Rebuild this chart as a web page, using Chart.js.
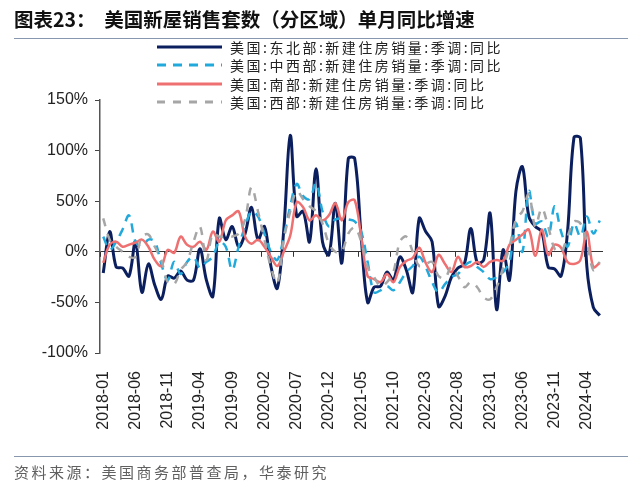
<!DOCTYPE html>
<html>
<head>
<meta charset="utf-8">
<script src="https://cdn.jsdelivr.net/npm/chart.js@4.4.0/dist/chart.umd.min.js"></script>
<style>
  body { margin: 0; background: #fff; }
  #wrap { position: relative; width: 640px; height: 489px; overflow: hidden; }
  #c { position: absolute; left: 0; top: 0; }
  .rule { position: absolute; left: 14px; width: 614px; height: 0; border-top: 1.5px solid #8797ad; }
  #title { position: absolute; left: 14px; top: 4px; font: bold 19.5px "Noto Sans CJK SC", sans-serif; color: #111; white-space: pre; }
  #legend { position: absolute; left: 157px; top: 38px; font: 14px "Noto Sans CJK SC", sans-serif; color: #222; letter-spacing: 2.5px; }
  .row { height: 18.3px; display: flex; align-items: center; white-space: nowrap; }
  .row svg { width: 65px; height: 6px; margin-right: 8px; }
  #source { position: absolute; left: 14px; top: 461px; font: 15px "Noto Sans CJK SC", sans-serif; color: #606060; letter-spacing: 2.5px; }
</style>
</head>
<body>
<div id="wrap">
  <canvas id="c" width="640" height="489"></canvas>
  <div id="title">图表23：  美国新屋销售套数（分区域）单月同比增速</div>
  <div class="rule" style="top:38px"></div>
  <div id="legend"></div>
  <div class="rule" style="top:456px"></div>
  <div id="source">资料来源：美国商务部普查局，华泰研究</div>
</div>
<script>
// 月份 2018-01 ~ 2024-06
const months = [
  '2018-01','2018-02','2018-03','2018-04','2018-05','2018-06','2018-07','2018-08','2018-09','2018-10','2018-11','2018-12',
  '2019-01','2019-02','2019-03','2019-04','2019-05','2019-06','2019-07','2019-08','2019-09','2019-10','2019-11','2019-12',
  '2020-01','2020-02','2020-03','2020-04','2020-05','2020-06','2020-07','2020-08','2020-09','2020-10','2020-11','2020-12',
  '2021-01','2021-02','2021-03','2021-04','2021-05','2021-06','2021-07','2021-08','2021-09','2021-10','2021-11','2021-12',
  '2022-01','2022-02','2022-03','2022-04','2022-05','2022-06','2022-07','2022-08','2022-09','2022-10','2022-11','2022-12',
  '2023-01','2023-02','2023-03','2023-04','2023-05','2023-06','2023-07','2023-08','2023-09','2023-10','2023-11','2023-12',
  '2024-01','2024-02','2024-03','2024-04','2024-05','2024-06'
];

// 同比 (%)
const northeast = [
  -21, 20, -15, -16, -24, 10, -40, -12, -33, -47, -24, -26,
  -19, -28, -28, 3, -28, -44, 33, 12, 25, 5, 18, 44,
  12, 25, -14, -36, 22, 115, 35, 40, 10, 82, 10, -3,
  48, -11, 92, 92, 15, -50, -35, -34, -20, -28, -5, -18,
  -40, 33, 20, 10, -54, -44, -25, -16, -12, 23, -11, -8,
  38, -57, 2, -28, 60, 84, 35, 25, 20, -15, -17, -24,
  20, 113, 112, -15, -55, -63
];
const midwest = [
  15, 2, 10, 22, 36, 10, 5, 12, 10, -12, -28, -10,
  -22, -10, -5, -16, -10, -5, 10, 5, -18, 5, 25, 40,
  35, 18, 0, -8, 15, 45, 67, 55, 52, 68, 40, 25,
  32, 33, 32, 30, 20, -10, -40, -38, -34, -38, -30, -20,
  -14, -5, -15, -30, -40, -32, -25, -22, -14, -10, -15, -20,
  -27, -25, -20, -10, 28, 0, 60, 28, 30, 15, 45, 20,
  5, 28, 15, 35, 18, 31
];
const south = [
  -11, 7, 10, 5, 7, 9, 12, 5, -8, -14, 2, -1,
  15, 7, 5, 10, 2, 20, 10, 31, 36, 40, 15, 8,
  12, 5, -5, -14, 0, 16, 49, 44, 31, 36, 31, 36,
  48, 31, 49, 51, 15, -24, -27, -30, -22, -30, -15, -9,
  -6, 4, -11, -20, -3, -12, -20, -5, -15, -14, -10, -15,
  -10, -8, -9, 7, 12, 17, 22, -4, 22, -3, 7, 4,
  -10, -12, -8, 20, -15, -11
];
const west = [
  33, 12, 5, 0, -5, -5, 15, 17, 5, -8, -30, -32,
  -18, -10, 10, 25, -8, 18, 15, 15, 15, 18, 32, 64,
  40, 12, -15, -31, 12, 40, 60, 52, 45, 40, 28, 8,
  0, 0, 18, 24, 10, -15, -25, -34, -30, -20, 10, 15,
  0, -14, -12, -10, -24, -26, -15, -24, -35, -30, -35, -45,
  -47, -35, -16, 5, 32, 40, 57, 25, 43, 25, 3, 0,
  15, 30, 28, 10, -18, -10
];

const yTicks = [-100, -50, 0, 50, 100, 150];

const series = [
  { label: '美国:东北部:新建住房销量:季调:同比', data: northeast, color: '#0b1f5e', width: 3, dash: [] },
  { label: '美国:中西部:新建住房销量:季调:同比', data: midwest, color: '#22a9dc', width: 2.5, dash: [9, 7] },
  { label: '美国:南部:新建住房销量:季调:同比', data: south, color: '#ef7070', width: 2.5, dash: [] },
  { label: '美国:西部:新建住房销量:季调:同比', data: west, color: '#a6a6a6', width: 2.5, dash: [8, 8] }
];

// legend (html)
const legend = document.getElementById('legend');
series.forEach(s => {
  const row = document.createElement('div');
  row.className = 'row';
  row.innerHTML = '<svg viewBox="0 0 65 6"><line x1="0" y1="3" x2="65" y2="3" stroke="' + s.color +
    '" stroke-width="3" stroke-dasharray="' + (s.dash.length ? s.dash.join(' ') : 'none') + '"/></svg><span>' + s.label + '</span>';
  legend.appendChild(row);
});

// small ticks on the zero line
const zeroTicks = {
  id: 'zeroTicks',
  beforeDatasetsDraw(chart) {
    const { ctx, scales: { x, y } } = chart;
    const y0 = y.getPixelForValue(0);
    const half = (x.getPixelForValue(1) - x.getPixelForValue(0)) / 2;
    ctx.save();
    ctx.strokeStyle = '#333';
    ctx.lineWidth = 1;
    months.forEach((m, i) => {
      if (i % 5 !== 0) return;
      const px = Math.round(x.getPixelForValue(i) - half) + 0.5;
      ctx.beginPath();
      ctx.moveTo(px, y0);
      ctx.lineTo(px, y0 + 5);
      ctx.stroke();
    });
    ctx.restore();
  }
};

new Chart(document.getElementById('c'), {
  type: 'line',
  data: {
    labels: months,
    datasets: series.map((s, i) => ({
      label: s.label,
      data: s.data,
      borderColor: s.color,
      borderWidth: s.width,
      borderDash: s.dash,
      pointRadius: 0,
      tension: 0.35,
      fill: false,
      order: 4 - i
    }))
  },
  options: {
    responsive: false,
    animation: false,
    layout: { padding: { left: 0, top: 100, right: 37, bottom: 36 } },
    plugins: { legend: { display: false }, tooltip: { enabled: false } },
    scales: {
      x: {
        offset: true,
        grid: { display: false },
        border: { display: false },
        ticks: {
          autoSkip: false,
          minRotation: 90,
          maxRotation: 90,
          padding: 10,
          color: '#222',
          font: { family: 'Liberation Sans, Arial', size: 16 },
          callback: (v, i) => (i % 5 === 0 ? months[i] : null)
        },
        afterFit(scale) { scale.height = 100; }
      },
      y: {
        min: yTicks[0],
        max: yTicks[yTicks.length - 1],
        afterBuildTicks(scale) { scale.ticks = yTicks.map(v => ({ value: v })); },
        grid: {
          drawOnChartArea: true,
          color: c => (c.tick && c.tick.value === 0 ? '#333' : 'rgba(0,0,0,0)'),
          tickColor: '#444',
          tickLength: 5,
          lineWidth: 1
        },
        border: { display: true, color: '#555', width: 1.5 },
        ticks: {
          padding: 7,
          color: '#222',
          font: { family: 'Liberation Sans, Arial', size: 16 },
          callback: v => v + '%'
        },
        afterFit(scale) { scale.width = 100; }
      }
    }
  },
  plugins: [zeroTicks]
});
</script>
</body>
</html>
